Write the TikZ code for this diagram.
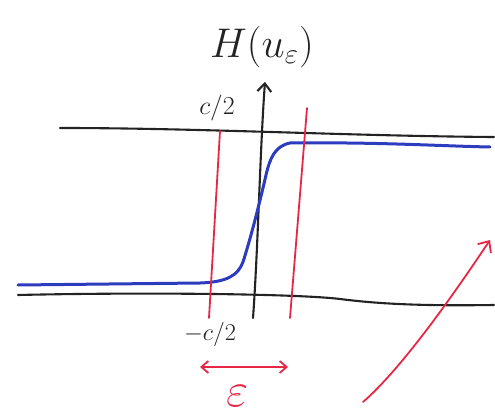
\documentclass[tikz,border=0pt]{standalone}
\usetikzlibrary{arrows.meta}
\definecolor{penred}{RGB}{230,40,70}
\definecolor{penblue}{RGB}{45,60,190}
\definecolor{penblack}{RGB}{35,35,35}
\tikzset{
  axisline/.style={draw=penblack, line width=2.1pt, line cap=round},
  redline/.style={draw=penred, line width=1.8pt, line cap=round},
  bluecurve/.style={draw=penblue, line width=3pt, line cap=round, line join=round},
  lbl/.style={inner sep=0pt, text=penblack, font=\LARGE},
  redlbl/.style={inner sep=0pt, text=penred, font=\LARGE},
}
\begin{document}
\begin{tikzpicture}[x=1pt,y=-1pt]
\useasboundingbox (0,0) rectangle (495,417);
% title
\node[lbl, scale=2.4] (title) at (262,47) {$H(u_\varepsilon)$};
% vertical axis
\coordinate (vb) at (253,318);
\coordinate (vt) at (265,82);
\draw[axisline, -{Straight Barb[length=8pt,width=14pt]}] (vb) .. controls (258,250) and (260,150) .. (vt);
% top horizontal line
\coordinate (tl) at (60,128);
\coordinate (tr) at (494,137);
\draw[axisline] (tl) .. controls (200,128) and (350,136) .. (tr);
% bottom horizontal line
\coordinate (bl) at (18,295);
\coordinate (br) at (494,305);
\draw[axisline] (bl) .. controls (150,292) and (300,294) .. (340,299) .. controls (380,304) and (420,306) .. (br);
% blue curve
\coordinate (b0) at (18,285);
\coordinate (b1) at (490,147);
\draw[bluecurve] (b0) -- (200,283) .. controls (228,282) and (238,275) .. (243,262)
  .. controls (250,240) and (258,210) .. (266,175) .. controls (270,158) and (275,146) .. (290,143)
  .. controls (380,142) and (440,146) .. (b1);
% labels
\node[lbl, scale=1.5] (ctop) at (217,108) {$c/2$};
\node[lbl, scale=1.4] (cbot) at (210,334) {$-c/2$};
% red vertical lines
\coordinate (r1t) at (220,131);
\coordinate (r1b) at (209,318);
\coordinate (r2t) at (307,108);
\coordinate (r2b) at (290,318);
\draw[redline] (r1t) -- (r1b);
\draw[redline] (r2t) -- (r2b);
% epsilon arrow
\coordinate (el) at (200,367);
\coordinate (er) at (288,367);
\draw[redline, {Straight Barb[length=7pt,width=12pt]}-{Straight Barb[length=7pt,width=12pt]}] (el) -- (er);
\node[redlbl, scale=2.8] (eps) at (238,396) {$\varepsilon$};
% long red arrow
\coordinate (la) at (363,402);
\coordinate (lb) at (490,240);
\draw[redline, -{Straight Barb[length=9pt,width=16pt]}] (la) .. controls (400,370) and (450,300) .. (lb);
\end{tikzpicture}
\end{document}
